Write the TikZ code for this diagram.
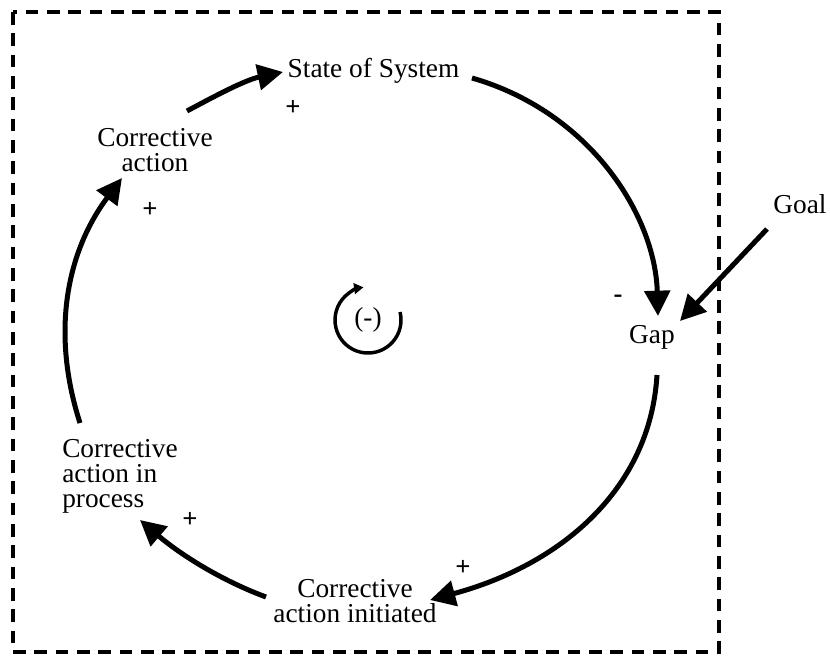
\documentclass[tikz,border=0pt]{standalone}
\usepackage{fontspec}
\setmainfont{Liberation Serif}
\usetikzlibrary{arrows.meta}
\begin{document}
\begin{tikzpicture}[x=0.75pt,y=-0.75pt,
  lbl/.style={font=\fontsize{20.5}{18.75}\selectfont, inner sep=0pt},
  pm/.style={font=\fontsize{20}{20}\selectfont\bfseries, inner sep=0pt},
  flow/.style={line width=3.75pt, -{Triangle[length=19pt,width=19pt]}},
  frame/.style={line width=3.5pt, dash pattern=on 9.5pt off 6.5pt}]
\useasboundingbox (0,0) rectangle (830,660);
\draw[frame] (13,12) rectangle (719,652);
% labels
\node[lbl, anchor=base] (sos) at (373.5,78) {State of System};
\node[lbl, anchor=north, align=center] (ca) at (155,128) {Corrective\\action};
\node[lbl, anchor=base] (gap) at (652,343) {Gap};
\node[lbl, anchor=base] (goal) at (800,213) {Goal};
\node[lbl, anchor=north west, align=left] (cip) at (62,439) {Corrective\\action in\\process};
\node[lbl, anchor=north, align=center] (cai) at (355,579) {Corrective\\action initiated};
% signs
\node[pm] (p1) at (293,108) {+};
\node[pm] (p2) at (150,210) {+};
\node[pm] (p3) at (190,520) {+};
\node[pm] (p4) at (463,568) {+};
\node[pm] (m1) at (618,299) {-};
% connector endpoints
\coordinate (s1) at (472,78);  \coordinate (e1) at (658,316);
\coordinate (s2) at (657,375); \coordinate (e2) at (430,600);
\coordinate (s3) at (266,597); \coordinate (e3) at (140,520);
\coordinate (s4) at (80,423);  \coordinate (e4) at (122,178);
\coordinate (s5) at (187,111); \coordinate (e5) at (283,72);
\coordinate (s6) at (767,229); \coordinate (e6) at (680,321);
\draw[flow] (s1) .. controls (590,112) and (655,215) .. (e1);
\draw[flow] (s2) .. controls (650,490) and (560,565) .. (e2);
\draw[flow] (s3) .. controls (215,578) and (175,550) .. (e3);
\draw[flow] (s4) .. controls (50,330) and (68,250) .. (e4);
\draw[flow] (s5) .. controls (215,96) and (245,80) .. (e5);
\draw[flow] (s6) -- (e6);
% loop symbol
\node[lbl] (loop) at (368,320) {(-)};
\draw[line width=2.6pt, -{Triangle[length=7pt,width=8pt]}] (loop.center) ++(-14:33) arc[start angle=-14, end angle=262, radius=33];
\end{tikzpicture}
\end{document}
